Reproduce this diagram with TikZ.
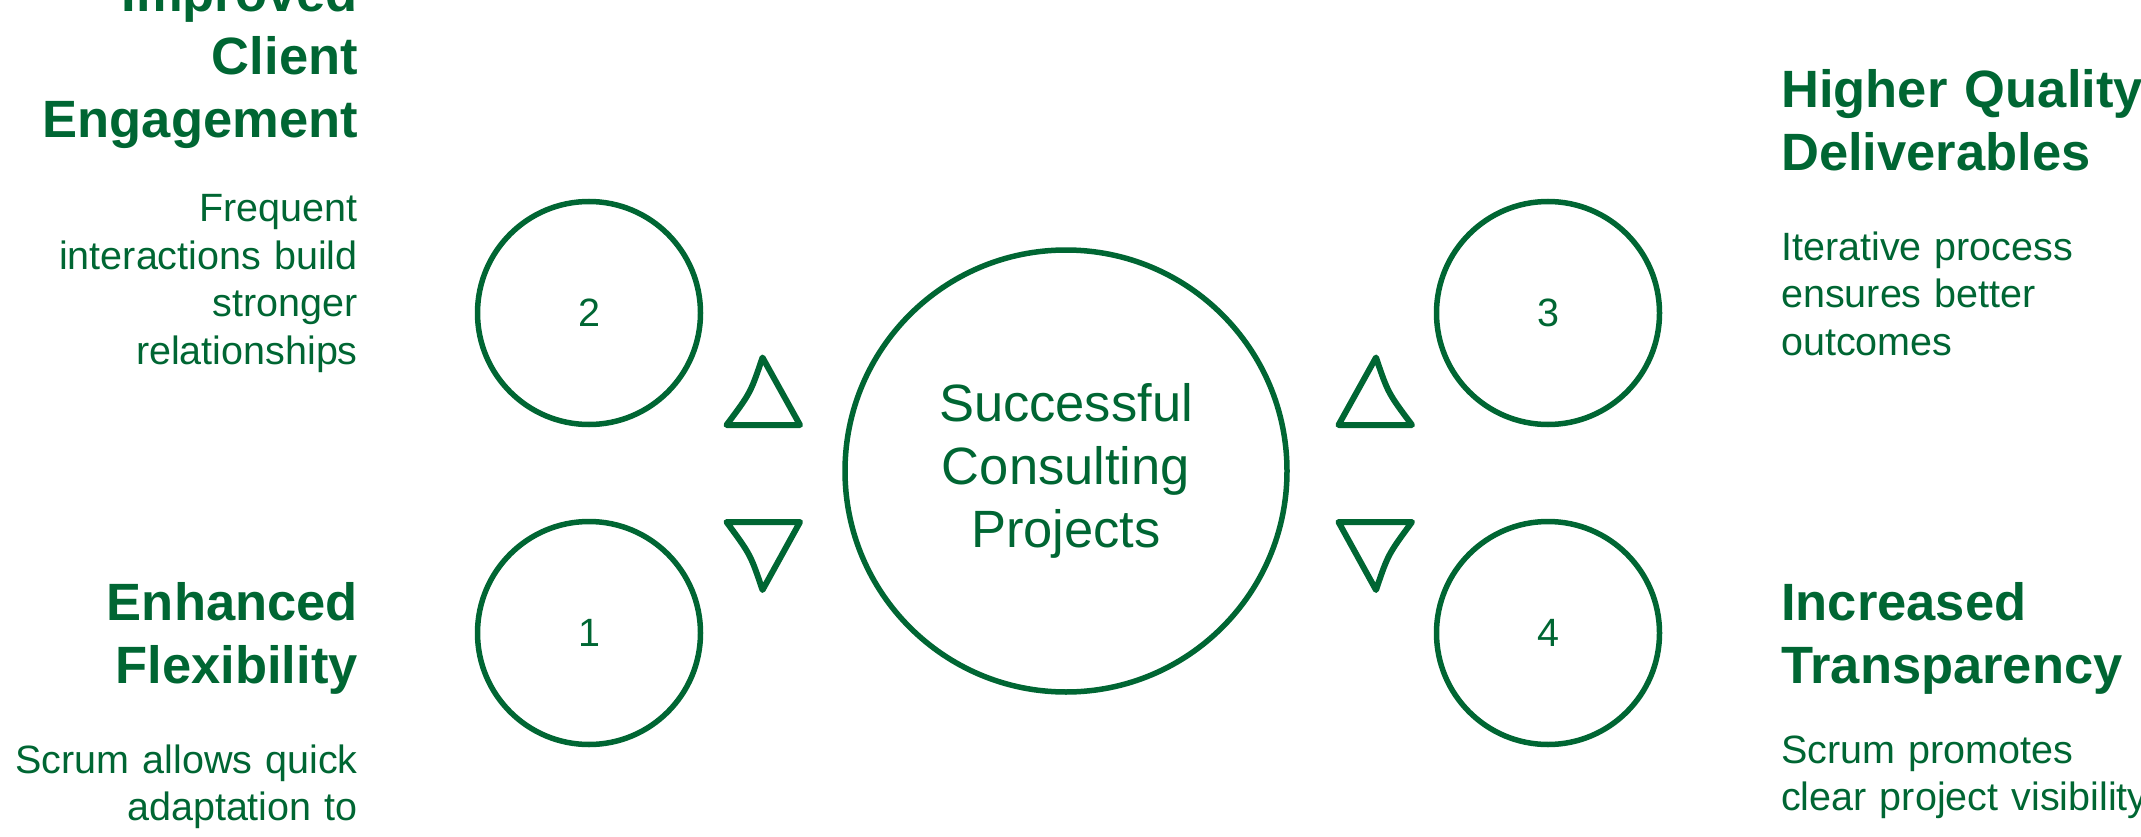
\documentclass[tikz,border=0pt]{standalone}
\usepackage{fontspec}
\setmainfont{Liberation Sans}
\definecolor{dg}{RGB}{0,102,51}
\begin{document}
\begin{tikzpicture}[x=1pt,y=-1pt,
  ring/.style={circle,draw=dg,line width=5.5pt,inner sep=0pt,minimum size=#1,text=dg},
  num/.style={ring=223pt,font=\fontsize{39.5}{47.5}\selectfont},
  head/.style={font=\fontsize{52.5}{63}\selectfont\bfseries,text=dg,inner sep=0pt,text width=420pt},
  desc/.style={font=\fontsize{39.5}{47.5}\selectfont,text=dg,inner sep=0pt,text width=420pt},
  tri/.style={draw=dg,line width=6pt,line join=round}]
\useasboundingbox (0,0) rectangle (2141,837);

% central circle
\node[ring=442pt,align=center,font=\fontsize{52.5}{63}\selectfont] (c) at (1066,471) {Successful\\Consulting\\Projects};

% numbered circles
\node[num] (n2) at (589,313) {2};
\node[num] (n1) at (589,633) {1};
\node[num] (n3) at (1548,313) {3};
\node[num] (n4) at (1548,633) {4};

% triangles
\draw[tri] (726.5,425) -- (800,425) -- (762.5,357.5) .. controls (750.5,393) .. (726.5,425) -- cycle;
\draw[tri] (726.5,522) -- (800,522) -- (762.5,590) .. controls (750.5,554.5) .. (726.5,522) -- cycle;
\draw[tri] (1412,425) -- (1338.5,425) -- (1376,357.5) .. controls (1388,393) .. (1412,425) -- cycle;
\draw[tri] (1412,522) -- (1338.5,522) -- (1376,590) .. controls (1388,554.5) .. (1412,522) -- cycle;

% left texts
\node[head,align=right,anchor=base east] (h2) at (358,12) {Improved\\Client\\Engagement};
\node[desc,align=right,anchor=base east] (d2) at (358,222) {Frequent\\interactions build\\stronger\\relationships};
\node[head,align=right,anchor=base east] (h1) at (358,620) {Enhanced\\Flexibility};
\node[desc,align=right,anchor=base east] (d1) at (358,773) {Scrum allows quick\\adaptation to};

% right texts
\node[head,align=left,anchor=base west] (h3) at (1781,108) {Higher Quality\\Deliverables};
\node[desc,align=left,anchor=base west] (d3) at (1781,260) {Iterative process\\ensures better\\outcomes};
\node[head,align=left,anchor=base west] (h4) at (1781,620) {Increased\\Transparency};
\node[desc,align=left,anchor=base west] (d4) at (1781,763) {Scrum promotes\\clear project visibility};
\end{tikzpicture}
\end{document}
